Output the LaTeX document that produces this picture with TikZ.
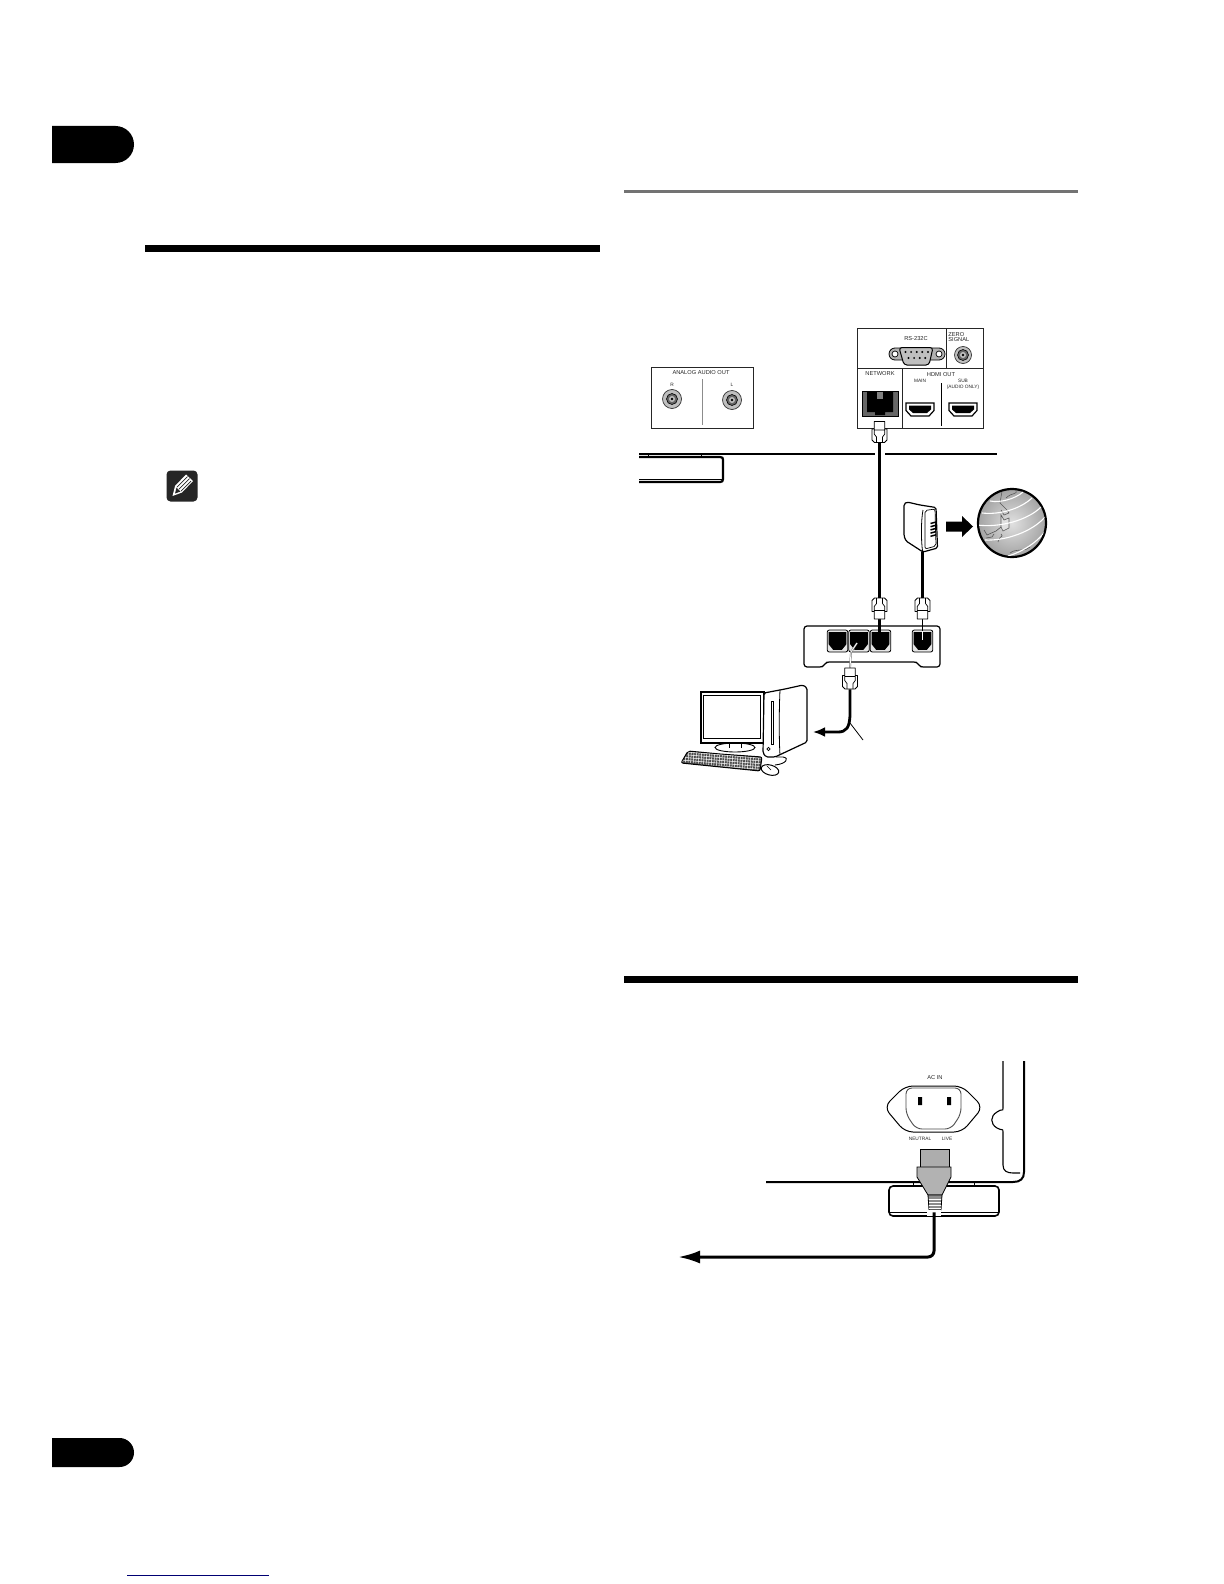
\documentclass[tikz,border=0pt]{standalone}
\usepackage{fontspec}
\setmainfont{Liberation Sans}
\usetikzlibrary{positioning,arrows,calc,arrows.meta}

\tikzset{
  lbl/.style={inner sep=0pt,font=\fontsize{2.85}{3.3}\selectfont,text=black!85},
  smalllbl/.style={inner sep=0pt,align=center,font=\fontsize{2.4}{2.9}\selectfont,text=black!85},
  panel/.style={draw=black!85,line width=0.45pt,fill=white,inner sep=0pt},
  jack/.style={circle,draw=black!80,fill=black!25,line width=0.35pt,inner sep=0pt},
  plugbox/.style={inner sep=0pt,minimum width=7.5pt,minimum height=10.5pt},
  portbox/.style={draw=black,fill=black!10,rounded corners=1pt,line width=0.4pt,inner sep=0pt,minimum width=10.2pt,minimum height=11pt},
  cable/.style={draw=black,line width=1.5pt},
  devline/.style={draw=black,line width=1pt},
  tabbox/.style={fill=black,draw=none},
  rjplug/.pic={
    \draw[black,line width=0.4pt,fill=white,line join=round] (0,-10.5) -- (-5.3,-10.5) -- (-5.3,-3) -- (-7.5,-3) -- (-7.5,8) -- (-5,10.5) -- (5,10.5) -- (7.5,8) -- (7.5,-3) -- (5.3,-3) -- (5.3,-10.5) -- cycle;
    \draw[black,line width=0.35pt] (-5.3,-3) -- (-5.3,2) -- (-3,5) -- (-3,10.5) (5.3,-3) -- (5.3,2) -- (3,5) -- (3,10.5) (-5.3,-2) -- (5.3,-2);
  },
  hdmiport/.pic={
    \draw[black,line width=0.6pt,fill=white] (-14,-6.5) -- (14,-6.5) -- (14,1) -- (9,6.5) -- (-9,6.5) -- (-14,1) -- cycle;
    \fill[black] (-11,-4) -- (11,-4) -- (11,0) -- (7,3.5) -- (-7,3.5) -- (-11,0) -- cycle;
  },
  rjport/.pic={
    \fill[black] (-8,-8) -- (8,-8) -- (8,3) -- (4,8) -- (-4,8) -- (-8,3) -- cycle;
  },
  jackring/.pic={
    \draw[black,line width=0.3pt,fill=black!60] (0,0) circle (5.5);
    \fill[black!25] (0,0) circle (3);
    \fill[black] (0,0) circle (1.3);
  }
}

\begin{document}
\begin{tikzpicture}[x=0.5pt,y=-0.5pt]

  \useasboundingbox[fill=white] (0,0) rectangle (1224,1584);

  % page furniture
  \fill[tabbox] (52,126) -- (115.5,126) arc (-90:90:18.5) -- (52,163) -- cycle;
  \fill[tabbox] (52,1438) -- (119.5,1438) arc (-90:90:14.5) -- (52,1467) -- cycle;
  \fill[black] (145,245) rectangle (600,252);
  \fill[black!55] (624,189.5) rectangle (1078,192.5);
  \fill[black] (624,975.5) rectangle (1078,982.5);
  \draw[blue!45!black,line width=0.5pt] (127,1575) -- (269,1575);

  \node[fill=black!85,rounded corners=2pt,minimum width=15.5pt,minimum height=15.5pt,inner sep=0pt] (note) at (182,486) {};
  \fill[white] (172.5,496) -- (175,486) -- (186,474.5) -- (193,481) -- (182,492.5) -- cycle;
  \fill[black!85] (175,493.5) -- (176.5,487.5) -- (180.5,491.5) -- cycle;
  \draw[black!85,line width=0.35pt] (177,487) -- (187.5,476.5) (181,491) -- (191,481) (179,489) -- (189.5,478.5);

  % analog outputs
  \node[panel,minimum width=51pt,minimum height=30.5pt] (analog) at (702,397.5) {};
  \node[lbl] (analogtxt) at (701,373) {ANALOG AUDIO OUT};
  \node[smalllbl] (rtxt) at (672,385) {R};
  \node[smalllbl] (ltxt) at (732,385) {L};
  \draw[black!45,line width=0.4pt] (702,379) -- (702,425);
  \node[jack,minimum size=9.5pt] (rjack) at (672,399) {};
  \node[jack,minimum size=9.5pt] (ljack) at (732,400) {};
  \pic at (rjack) {jackring};
  \pic at (ljack) {jackring};

  % rear panel
  \node[panel,minimum width=63pt,minimum height=50pt] (rear) at (920,378) {};
  \draw[black!85,line width=0.45pt] (857,368) -- (983,368) (946,328) -- (946,368) (902,368) -- (902,428);
  \draw[black,line width=0.4pt] (941,383) -- (941,426);
  \node[lbl] (rstxt) at (916,339) {RS-232C};
  \node[lbl,align=left,anchor=west] (zerotxt) at (948,337) {ZERO\\[-0.6pt]SIGNAL};
  \node[lbl] (nettxt) at (880,374) {NETWORK};
  \node[lbl] (hdmitxt) at (941,375) {HDMI OUT};
  \node[smalllbl] (maintxt) at (920,381) {MAIN};
  \node[smalllbl] (subtxt) at (963,384) {SUB\\(AUDIO ONLY)};

  % serial connector
  \draw[black,line width=0.4pt,fill=black!30,rounded corners=3pt] (889,348) rectangle (945,360);
  \draw[black,line width=0.35pt,fill=white] (895,354) circle (3) (939,354) circle (3);
  \draw[black,line width=0.5pt,fill=black!25,rounded corners=1.5pt] (916,347.5) -- (933,347.5) -- (929,365) -- (904,365) -- (899,347.5) -- cycle;
  \foreach \i in {0,...,4} \fill[black] (905.5+\i*5.6,352) circle (1.1);
  \foreach \i in {0,...,3} \fill[black] (908.5+\i*5.6,358) circle (1.1);
  \node[jack,minimum size=8.5pt] (zerojack) at (963,355) {};
  \pic at (zerojack) {jackring};

  % network and hdmi ports
  \node[draw=black,fill=black!60,line width=0.45pt,inner sep=0pt,minimum width=18pt,minimum height=12.5pt] (netport) at (880,403.5) {};
  \fill[black] (867,392) -- (893,392) -- (893,412) -- (885,412) -- (885,415) -- (875,415) -- (875,412) -- (867,412) -- cycle;
  \fill[black!50] (877,392) rectangle (883,399);
  \pic at (920,409.5) {hdmiport};
  \pic at (963,409.5) {hdmiport};

  % player
  \draw[devline] (639,454) -- (997,454);
  \draw[line width=0.5pt] (648,454) -- (648,457) (701,454) -- (701,457);
  \draw[line width=1.1pt] (639,457) -- (720,457) .. controls (722.5,457) and (723,458) .. (723,460) -- (723,479) .. controls (723,481) and (722,482) .. (720,482) -- (639,482);
  \draw[line width=0.4pt] (639,479.5) -- (722,479.5);

  % plugs and cables
  \coordinate (netmid) at (879.5,454);
  \node[plugbox] (netplug) at (879.5,432) {};
  \node[plugbox] (hubplugA) at (879.5,608.5) {};
  \node[plugbox] (hubplugB) at (922.5,608.5) {};
  \node[plugbox] (pcplug) at (850,678.5) {};

  % adapter
  \node[inner sep=0pt,minimum size=0pt] (adapter) at (922.5,552) {};
  \draw[black,line width=0.6pt,fill=white,rounded corners=0.8pt,line join=round] (920,505) -- (936,507.5) -- (937.5,548) -- (923,552) -- (906,541) -- (904,536) -- (904,504) -- (907,502) -- cycle;
  \draw[black,line width=0.4pt] (923,510) .. controls (921,520) and (921,540) .. (922.5,551);
  \draw[black,line width=0.35pt,rounded corners=1pt] (925,510.5) -- (935,509) -- (936,546) -- (925,549) -- cycle;
  \foreach \i in {0,...,4} \draw[black,line width=0.75pt] (930.5,523.5+\i*3.2) -- (936,522+\i*3.2);

  % arrow to globe
  \node[circle,draw=black,line width=1.1pt,inner color=black!12,outer color=black!36,minimum size=34pt,inner sep=0pt] (globe) at (1012,523) {};
  \begin{scope}
    \clip (1012,523) circle (33);
    \draw[black!65,line width=0.3pt] (1002,491) -- (1000,503) -- (1007,510) -- (1009,513) -- (1004,515) -- (1001,510) (1006,498) .. controls (1012,492) and (1018,495) .. (1016,490);
    \draw[black!65,line width=0.3pt,fill=black!12] (1001,515) -- (1004,520) -- (1009,518) -- (1009,528) -- (1003,531) -- (1001,527) -- cycle;
    \draw[black!65,line width=0.3pt] (1001,527) -- (996,531) -- (987,535) -- (984,530) (986,538) -- (992,537) -- (994,534) (998,542) .. controls (1000,534) and (1004,538) .. (1001,534);
    \draw[black!65,line width=0.3pt] (1010,553) .. controls (1016,548) and (1026,552) .. (1030,547);
    \draw[white,line width=0.55pt] (990,501) .. controls (1000,503) and (1015,499) .. (1023,492);
    \draw[white,line width=0.55pt] (982,513) .. controls (1000,515) and (1020,509) .. (1032,498);
    \draw[white,line width=0.55pt] (977,525) .. controls (1000,528) and (1028,520) .. (1041,507);
    \draw[white,line width=0.55pt] (985,540) .. controls (1005,541) and (1032,532) .. (1045,517);
    \draw[white,line width=0.55pt] (1008,556) .. controls (1022,552) and (1038,542) .. (1046,530);
  \end{scope}
  \fill[black] (946,521.5) -- (962,521.5) -- (962,516) -- (973,526.5) -- (962,537) -- (962,531.5) -- (946,531.5) -- cycle;

  % hub
  \draw[black,line width=0.6pt,fill=white,rounded corners=1.5pt] (870,626) -- (940,626) -- (940,667) -- (920,667) -- (917,662) -- (826,662) -- (823,667) -- (804,667) -- (804,626) -- cycle;
  \node[portbox] (hubA) at (837.5,641) {};
  \node[portbox] (hubB) at (859,641) {};
  \node[portbox] (hubC) at (880.5,641) {};
  \node[portbox] (hubD) at (922.5,641) {};
  \pic[scale=1.1] at (hubA) {rjport};
  \pic[scale=1.1] at (hubB) {rjport};
  \pic[scale=1.1] at (hubC) {rjport};
  \pic[scale=1.1] at (hubD) {rjport};

  \coordinate (hubwireA) at (879.5,640);
  \coordinate (hubwireB) at (922.5,640);
  \coordinate (hubwireC) at (857,643);
  \coordinate (hubelbow) at (851,652);
  \coordinate (cablebend) at (850,713);
  \coordinate (pcarrow) at (813,732);
  \coordinate (leader) at (863,740);
  \coordinate (leaderend) at (850,723);

  \draw[white,line width=2.6pt] (netmid) ++(-5,0) -- ++(10,0);
  \path[cable] (netplug) -- (hubplugA);
  \path[cable] (adapter) -- (hubplugB);
  \draw[black,line width=1.1pt] (hubplugA.south) -- (hubwireA);
  \draw[black,line width=0.5pt] (hubplugB.south) -- (hubwireB);
  \draw[white,line width=0.8pt] (922.5,631) -- (hubwireB);
  \draw[black!60,line width=0.9pt] (pcplug.north) -- (hubelbow) -- (hubwireC);
  \draw[white,line width=0.45pt] (pcplug.north) -- (hubelbow) -- (hubwireC);

  \pic at (netplug) {rjplug};
  \pic[yscale=-1] at (hubplugA) {rjplug};
  \pic[yscale=-1] at (hubplugB) {rjplug};
  \pic at (pcplug) {rjplug};

  \draw[line width=1.4pt,-{Latex[length=6pt,width=5pt]}] (pcplug.south) -- (cablebend) .. controls (850,728) and (846,732) .. (838,732) -- (pcarrow);
  \draw[line width=0.4pt] (leaderend) -- (leader);

  % computer
  \draw[black,line width=0.45pt,fill=white] (735,747.5) ellipse (20 and 4.5);
  \draw[black,line width=0.4pt,fill=white] (729,741) -- (729,748) (741,741) -- (741,748);
  \draw[black,line width=0.6pt,fill=white] (701,692) rectangle (764,743);
  \draw[black,line width=0.4pt,fill=white] (703.5,695) rectangle (760,738);
  \draw[black,line width=0.6pt,fill=white,rounded corners=0.8pt,line join=round] (785,689) -- (803,685) -- (807,688) -- (807,742) -- (775,757) -- (766,757) -- (763,753) -- (764,693) -- cycle;
  \draw[black,line width=0.4pt] (780,690) .. controls (779,710) and (779,740) .. (780,755);
  \draw[black,line width=0.4pt] (771,701) rectangle (773,744);
  \draw[black,line width=0.4pt] (768.5,749) circle (1.6);

  % keyboard
  \draw[black,line width=0.5pt,fill=black!70,rounded corners=1pt] (720,754) -- (762,757) -- (760,771) -- (681,763) -- (688,751) -- cycle;
  \begin{scope}
    \clip (689,752) -- (761,758) -- (759,770) -- (682,762) -- cycle;
    \foreach \i in {0,...,4} \draw[white,line width=0.25pt] (680,751.5+\i*2.8) -- (765,758.5+\i*2.8);
    \foreach \i in {0,...,30} \draw[white,line width=0.25pt] (684+\i*2.6,745) -- (682+\i*2.6,775);
  \end{scope}

  % mouse
  \draw[black,line width=0.45pt] (775,765) .. controls (786,764) and (790,758) .. (783,757) -- (776,757);
  \draw[black,line width=0.5pt,fill=white,rotate around={-15:(770,770)}] (770,770) ellipse (9 and 5);
  \draw[black,line width=0.3pt] (767,766) -- (771,770);

  % inlet
  \node[lbl] (actxt) at (935,1078) {AC IN};
  \draw[black,line width=0.5pt,rounded corners=4pt] (930,1086) -- (962,1086) -- (983,1107) -- (962,1132) -- (905,1132) -- (884,1107) -- (905,1086) -- cycle;
  \draw[black!70,line width=0.45pt,rounded corners=3pt] (930,1088) -- (961,1088) -- (961,1114) -- (951,1129) -- (916,1129) -- (906,1114) -- (906,1088) -- cycle;
  \fill[black] (918,1097) rectangle (922,1105) (947,1097) rectangle (951,1105);
  \node[smalllbl] (neutxt) at (920,1139) {NEUTRAL};
  \node[smalllbl] (livetxt) at (947,1139) {LIVE};

  % player rear corner
  \draw[devline] (766,1182) -- (1013,1182) .. controls (1020,1182) and (1024,1179) .. (1024,1172) -- (1024,1061);
  \draw[line width=0.55pt] (1003,1061) -- (1003,1108) .. controls (1003,1112) and (1002,1108) .. (997,1112) .. controls (990,1116) and (990,1124) .. (997,1128) .. controls (1002,1131) and (1003,1128) .. (1003,1132) -- (1003,1165) .. controls (1003,1171) and (1007,1173) .. (1013,1173) -- (1020,1173);
  \draw[line width=0.5pt] (913,1182) -- (913,1186) (974,1182) -- (974,1186);
  \draw[line width=0.8pt,rounded corners=2pt] (889,1186) rectangle (999,1216);
  \draw[line width=0.4pt] (889,1212.5) -- (999,1212.5);

  % power plug
  \coordinate (mainsend) at (678,1257);
  \node[inner sep=0pt,minimum size=0pt] (strain) at (934,1212) {};
  \draw[black,line width=0.35pt,fill=black!32] (920,1149) rectangle (949,1168);
  \draw[black,line width=0.4pt,fill=black!30] (917,1167) -- (951,1167) -- (951,1177) -- (942,1195) -- (928,1195) -- (917,1177) -- cycle;
  \draw[black,line width=0.4pt,fill=black!45] (928,1195) -- (942,1195) -- (941,1210) -- (929,1210) -- cycle;
  \foreach \i in {0,...,3} \draw[white,line width=0.4pt] (929,1199+\i*3) -- (941,1199+\i*3);
  \draw[white,line width=3pt] (927,1212.5) -- (941,1212.5);
  \draw[line width=1.5pt,rounded corners=3pt,-{Latex[length=11pt,width=6.5pt]}] (strain) -- (934,1257) -- (mainsend);

\end{tikzpicture}
\end{document}
